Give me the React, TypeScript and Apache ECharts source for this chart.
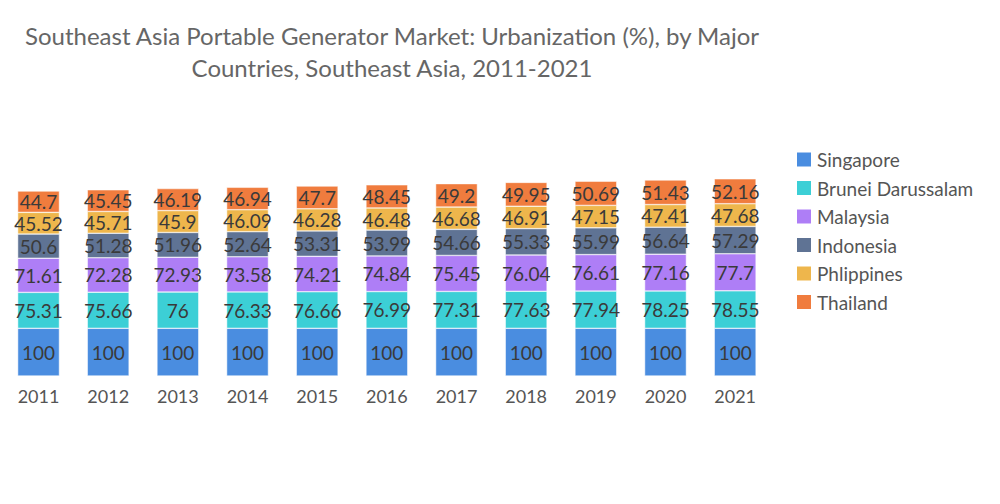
import React, { useEffect, useRef } from "react";
import * as echarts from "echarts";

const years = ["2011", "2012", "2013", "2014", "2015", "2016", "2017", "2018", "2019", "2020", "2021"];
const singapore = [100, 100, 100, 100, 100, 100, 100, 100, 100, 100, 100];
const brunei = [75.31, 75.66, 76, 76.33, 76.66, 76.99, 77.31, 77.63, 77.94, 78.25, 78.55];
const malaysia = [71.61, 72.28, 72.93, 73.58, 74.21, 74.84, 75.45, 76.04, 76.61, 77.16, 77.7];
const indonesia = [50.6, 51.28, 51.96, 52.64, 53.31, 53.99, 54.66, 55.33, 55.99, 56.64, 57.29];
const philippines = [45.52, 45.71, 45.9, 46.09, 46.28, 46.48, 46.68, 46.91, 47.15, 47.41, 47.68];
const thailand = [44.7, 45.45, 46.19, 46.94, 47.7, 48.45, 49.2, 49.95, 50.69, 51.43, 52.16];

const seriesDefs = [
  { name: "Singapore", data: singapore, color: "#4a8de0" },
  { name: "Brunei Darussalam", data: brunei, color: "#3ccfd6" },
  { name: "Malaysia", data: malaysia, color: "#ae7ef6" },
  { name: "Indonesia", data: indonesia, color: "#5f7394" },
  { name: "Phlippines", data: philippines, color: "#eeb64c" },
  { name: "Thailand", data: thailand, color: "#f07c3e" },
];

const FONT = "Lato, 'Noto Sans', sans-serif";

export default function App() {
  const ref = useRef<HTMLDivElement>(null);
  useEffect(() => {
    if (!ref.current) return;
    const chart = echarts.init(ref.current, null, { renderer: "svg" });
    chart.setOption({
      animation: false,
      backgroundColor: "#ffffff",
      title: {
        text: "Southeast Asia Portable Generator Market: Urbanization (%), by Major\nCountries, Southeast Asia, 2011-2021",
        left: 387,
        top: 14,
        textAlign: "center",
        textStyle: {
          fontFamily: FONT,
          fontSize: 24,
          fontWeight: "normal",
          color: "#666666",
          lineHeight: 32,
        },
      },
      legend: {
        orient: "vertical",
        left: 790,
        top: 145,
        itemWidth: 16,
        itemHeight: 16,
        itemGap: 9.5,
        icon: "rect",
        data: seriesDefs.map((s) => s.name),
        textStyle: { fontFamily: FONT, fontSize: 19, color: "#555555" },
      },
      grid: { left: 3.7, right: 230, top: 137.5, bottom: 128, containLabel: false },
      xAxis: {
        type: "category",
        data: years,
        axisLine: { show: false },
        axisTick: { show: false },
        axisLabel: { fontFamily: FONT, fontSize: 18, color: "#555555", margin: 11 },
      },
      yAxis: {
        type: "value",
        min: 0,
        max: 500,
        show: false,
        splitLine: { show: false },
      },
      series: seriesDefs.map((s) => ({
        name: s.name,
        type: "bar",
        stack: "total",
        data: s.data,
        barWidth: "60%",
        itemStyle: { color: s.color, borderColor: "#ffffff", borderWidth: 0.5 },
        label: {
          show: true,
          position: "inside",
          fontFamily: FONT,
          fontSize: 19,
          color: "#3a3a3a",
        },
      })),
    });
    return () => chart.dispose();
  }, []);
  return (
    <div
      ref={ref}
      style={{ position: "fixed", left: 0, top: 0, width: 1000, height: 504 }}
    />
  );
}
